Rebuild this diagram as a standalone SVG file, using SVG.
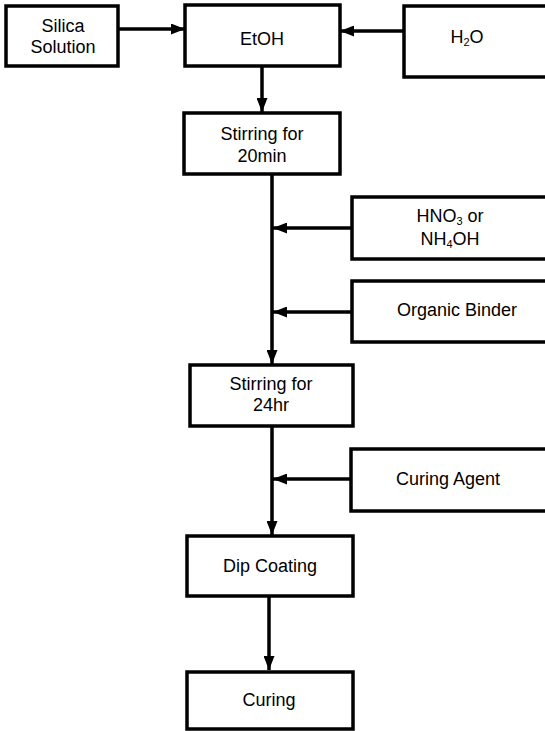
<svg xmlns="http://www.w3.org/2000/svg" width="545" height="731" viewBox="0 0 545 731">
<style>
.box{fill:#fff;stroke:#000;stroke-width:3.5}
.t{font-family:"Liberation Sans",Arial,sans-serif;font-size:18px;fill:#000;text-anchor:middle}
.sub{font-size:11px}
.c{fill:none;stroke:#000;stroke-width:3.5}
</style>
<defs>
<marker id="ah" viewBox="0 0 14 11" refX="14" refY="5.5" markerWidth="14" markerHeight="11" markerUnits="userSpaceOnUse" orient="auto">
<path d="M0,0 L14,5.5 L0,11 Z" fill="#000"/>
</marker>
</defs>
<rect width="545" height="731" fill="#fff"/>
<g id="connectors">
<line class="c" x1="118" y1="29" x2="185" y2="29" marker-end="url(#ah)"/>
<line class="c" x1="404" y1="31" x2="340" y2="31" marker-end="url(#ah)"/>
<line class="c" x1="262" y1="66" x2="262" y2="112" marker-end="url(#ah)"/>
<line class="c" x1="272" y1="174" x2="272" y2="364" marker-end="url(#ah)"/>
<line class="c" x1="352" y1="228" x2="273" y2="228" marker-end="url(#ah)"/>
<line class="c" x1="352" y1="312" x2="273" y2="312" marker-end="url(#ah)"/>
<line class="c" x1="272" y1="426" x2="272" y2="535" marker-end="url(#ah)"/>
<line class="c" x1="351" y1="479" x2="273" y2="479" marker-end="url(#ah)"/>
<line class="c" x1="269" y1="596" x2="269" y2="670" marker-end="url(#ah)"/>
</g>
<g id="silica">
<rect class="box" x="6" y="6" width="112" height="60"/>
<text class="t" x="63" y="32">Silica</text>
<text class="t" x="63" y="53">Solution</text>
</g>
<g id="etoh">
<rect class="box" x="185" y="5" width="155" height="61"/>
<text class="t" x="262" y="45">EtOH</text>
</g>
<g id="h2o">
<rect class="box" x="404" y="6" width="145" height="71"/>
<text class="t" x="467" y="43">H<tspan class="sub" dy="3">2</tspan><tspan dy="-3">O</tspan></text>
</g>
<g id="stir20">
<rect class="box" x="184" y="113" width="156" height="61"/>
<text class="t" x="262" y="140">Stirring for</text>
<text class="t" x="262" y="162">20min</text>
</g>
<g id="acid">
<rect class="box" x="352" y="197" width="197" height="62"/>
<text class="t" x="450" y="222">HNO<tspan class="sub" dy="3">3</tspan><tspan dy="-3"> or</tspan></text>
<text class="t" x="450" y="245">NH<tspan class="sub" dy="3">4</tspan><tspan dy="-3">OH</tspan></text>
</g>
<g id="binder">
<rect class="box" x="352" y="281" width="197" height="61"/>
<text class="t" x="457" y="316">Organic Binder</text>
</g>
<g id="stir24">
<rect class="box" x="190" y="365" width="163" height="61"/>
<text class="t" x="271" y="390">Stirring for</text>
<text class="t" x="271" y="411">24hr</text>
</g>
<g id="curingagent">
<rect class="box" x="351" y="449" width="198" height="62"/>
<text class="t" x="448" y="485">Curing Agent</text>
</g>
<g id="dip">
<rect class="box" x="187" y="536" width="166" height="60"/>
<text class="t" x="270" y="572">Dip Coating</text>
</g>
<g id="curing">
<rect class="box" x="187" y="672" width="166" height="57"/>
<text class="t" x="269" y="706">Curing</text>
</g>
</svg>
